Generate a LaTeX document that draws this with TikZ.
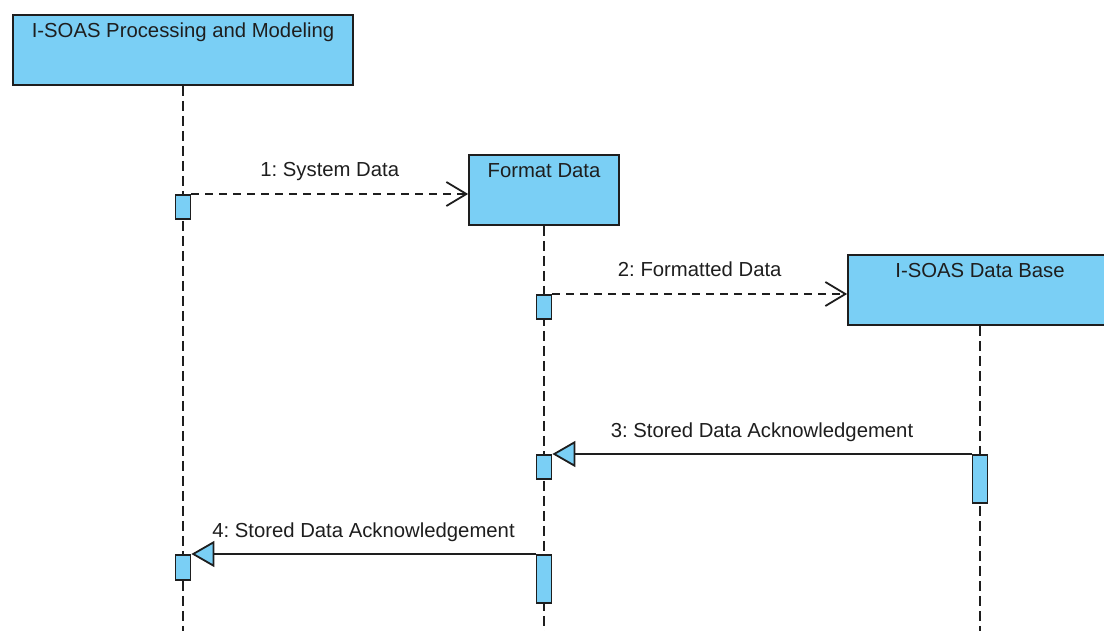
\documentclass[tikz,border=0pt]{standalone}
\usepackage{fontspec}
\setmainfont{Liberation Sans}
\usetikzlibrary{arrows.meta}
\definecolor{boxblue}{RGB}{122,207,245}
\definecolor{ink}{RGB}{30,30,30}
\frenchspacing
\begin{document}
\begin{tikzpicture}[x=1pt,y=-1pt,
  lbl/.style={font=\fontsize{20.3}{24}\selectfont, text=ink},
  obj/.style={draw=ink, fill=boxblue, line width=1.8pt, inner sep=0pt, text height=23pt, text depth=47pt, anchor=north, font=\fontsize{20.3}{24}\selectfont, text=ink},
  act/.style={draw=ink, fill=boxblue, line width=1.8pt, inner sep=0pt, minimum width=15pt, anchor=north},
  lifeline/.style={draw=ink, line width=1.8pt, dash pattern=on 10pt off 5pt},
  async/.style={draw=ink, line width=1.8pt, dash pattern=on 8pt off 6pt, -{Straight Barb[length=20pt,width=24pt]}},
  reply/.style={draw=ink, line width=1.8pt, -{Triangle[length=23pt,width=26pt,fill=boxblue]}},
]
\useasboundingbox (0,0) rectangle (1104,631);
\clip (0,0) rectangle (1104,631);
\coordinate (bot) at (0,631);
% objects
\node[obj, minimum width=340pt] (p1) at (183,14) {I-SOAS Processing and Modeling};
\node[obj, minimum width=150pt] (p2) at (544,154) {Format Data};
\node[obj, minimum width=264pt] (p3) at (980,254) {I-SOAS Data Base};
% lifelines
\draw[lifeline] (p1.south) -- (p1.south |- bot);
\draw[lifeline] (p2.south) -- (p2.south |- bot);
\draw[lifeline] (p3.south) -- (p3.south |- bot);
% activations
\node[act, minimum height=24pt] (a1) at (183,194) {};
\node[act, minimum height=24pt] (a2) at (544,294) {};
\node[act, minimum height=24pt] (a3) at (544,454) {};
\node[act, minimum height=48pt] (a4) at (980,454) {};
\node[act, minimum height=48pt] (a5) at (544,554) {};
\node[act, minimum height=25pt] (a6) at (183,554) {};
% messages
\draw[async] (a1.north east) -- (a1.north east -| p2.west)
  node[lbl, midway, anchor=base, yshift=17pt] {1: System Data};
\draw[async] (a2.north east) -- (a2.north east -| p3.west)
  node[lbl, midway, anchor=base, yshift=17pt] {2: Formatted Data};
\draw[reply] (a4.north west) -- (a3.north east)
  node[lbl, midway, anchor=base, yshift=17pt] {3: Stored Data Acknowledgement};
\draw[reply] (a5.north west) -- (a6.north east)
  node[lbl, midway, anchor=base, yshift=17pt] {4: Stored Data Acknowledgement};
\end{tikzpicture}
\end{document}
